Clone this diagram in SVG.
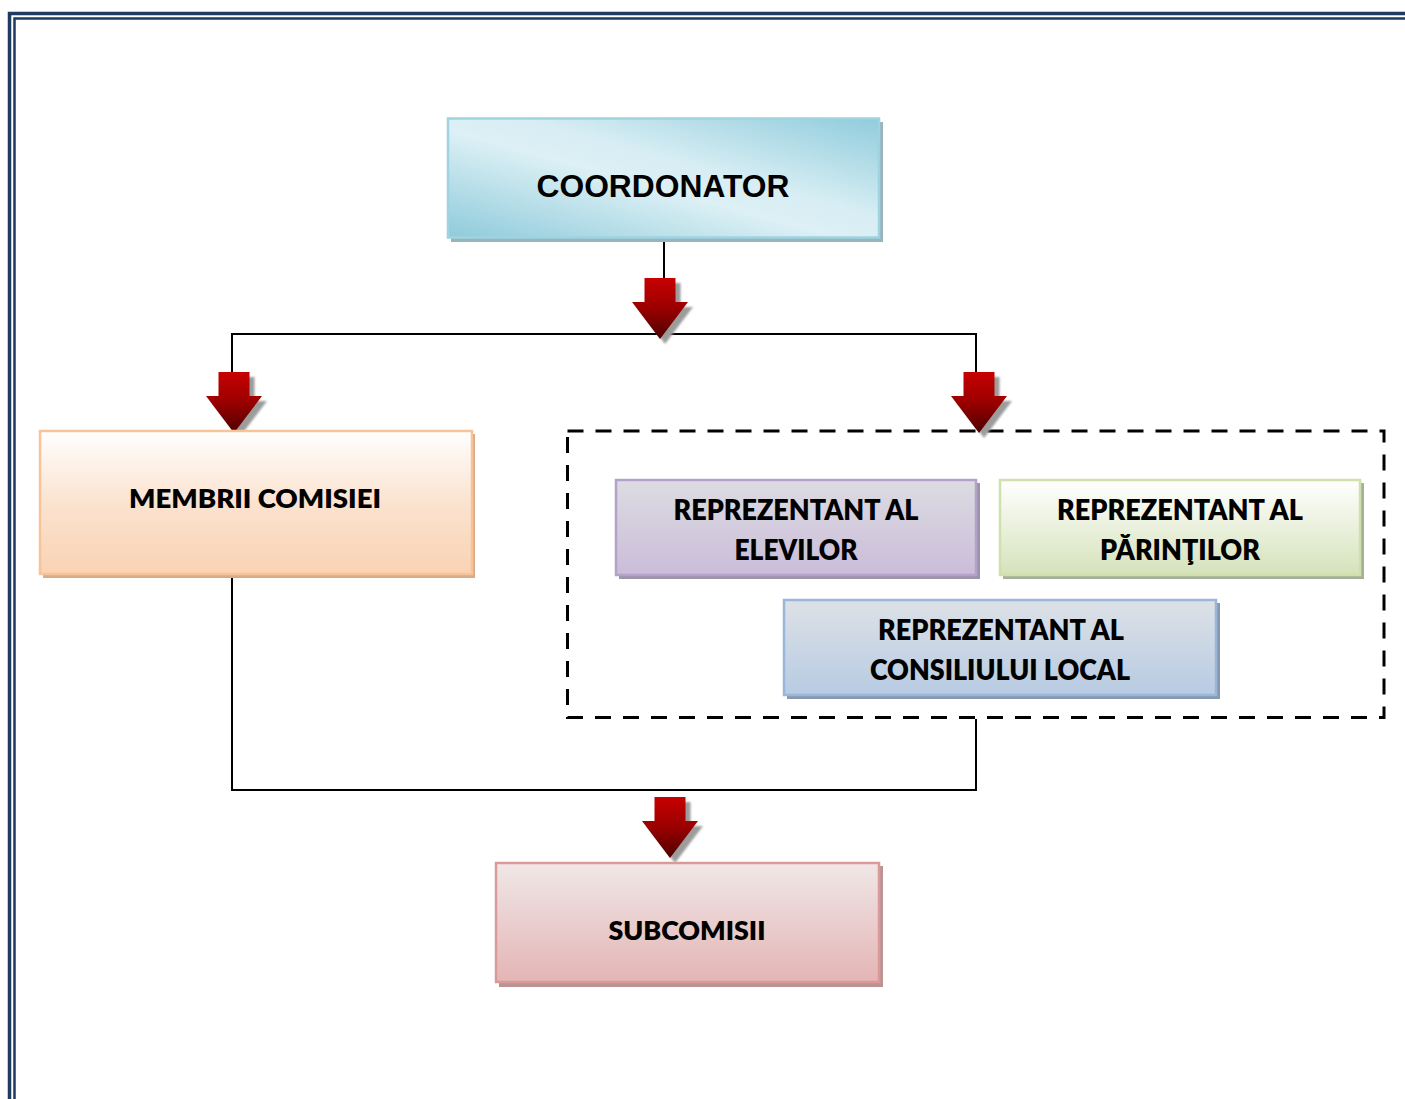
<svg xmlns="http://www.w3.org/2000/svg" width="1405" height="1099" viewBox="0 0 1405 1099">
<style>
.frame{fill:none;stroke:#1f3a60}
.conn{fill:none;stroke:#000;stroke-width:2}
.dash{fill:none;stroke:#000;stroke-width:3;stroke-dasharray:16 12}
.lbl{font-family:Lato,"Open Sans","DejaVu Sans",sans-serif;font-weight:800;fill:#000;text-anchor:middle}
.lblA{font-family:"Liberation Sans",Arial,sans-serif;font-weight:bold;fill:#000;text-anchor:middle}
.bx{stroke-width:2.5}
</style>
<defs>
<linearGradient id="gCoord" x1="0" y1="1" x2="1" y2="0">
<stop offset="0" stop-color="#8fcbdb"/>
<stop offset="0.45" stop-color="#dcf0f5"/>
<stop offset="0.58" stop-color="#d8eef4"/>
<stop offset="1" stop-color="#90ccdc"/>
</linearGradient>
<linearGradient id="gMem" x1="0" y1="0" x2="0" y2="1">
<stop offset="0" stop-color="#ffffff"/>
<stop offset="0.5" stop-color="#fbe3d0"/>
<stop offset="1" stop-color="#f9d3b3"/>
</linearGradient>
<linearGradient id="gElev" x1="0" y1="0" x2="0" y2="1">
<stop offset="0" stop-color="#dcdce2"/>
<stop offset="1" stop-color="#cbbcd9"/>
</linearGradient>
<linearGradient id="gPar" x1="0" y1="0" x2="0" y2="1">
<stop offset="0" stop-color="#ffffff"/>
<stop offset="1" stop-color="#d5e2ba"/>
</linearGradient>
<linearGradient id="gCons" x1="0" y1="0" x2="0" y2="1">
<stop offset="0" stop-color="#dde1e6"/>
<stop offset="1" stop-color="#b7cbe3"/>
</linearGradient>
<linearGradient id="gSub" x1="0" y1="0" x2="0" y2="1">
<stop offset="0" stop-color="#f0e7e7"/>
<stop offset="1" stop-color="#e4b5b5"/>
</linearGradient>
<linearGradient id="gArrow" x1="0" y1="0" x2="0" y2="1">
<stop offset="0" stop-color="#c80000"/>
<stop offset="0.5" stop-color="#9a0000"/>
<stop offset="1" stop-color="#4f0000"/>
</linearGradient>
<filter id="blur" x="-30%" y="-30%" width="160%" height="160%">
<feGaussianBlur stdDeviation="1.2"/>
</filter>
<path id="arrowShape" d="M-15.5,0 H15.5 V24 H28 L0,61 L-28,24 H-15.5 Z"/>
<g id="arrow">
<use href="#arrowShape" transform="translate(5,5)" fill="#9c9c9c" filter="url(#blur)"/>
<use href="#arrowShape" fill="url(#gArrow)"/>
</g>
</defs>
<rect width="1405" height="1099" fill="#ffffff"/>
<g id="frame">
<path class="frame" stroke-width="3.5" d="M9.5,1099 V13.5 H1405"/>
<path class="frame" stroke-width="2.5" d="M14.5,1099 V18.5 H1405"/>
</g>
<g id="group-representatives">
<rect class="dash" x="567.5" y="431" width="816.5" height="286.5"/>
</g>
<g id="connectors">
<path class="conn" d="M664,238 V300"/>
<path class="conn" d="M232,380 V334 H976 V380"/>
<path class="conn" d="M232,576 V790 H976 V719"/>
<use href="#arrow" transform="translate(660,278)"/>
<use href="#arrow" transform="translate(234,372)"/>
<use href="#arrow" transform="translate(979,372)"/>
<use href="#arrow" transform="translate(670,797)"/>
</g>
<g id="node-coordonator">
<rect x="451" y="122" width="432" height="120" fill="#97b5bf"/>
<rect class="bx" x="448" y="118.5" width="431" height="119" fill="url(#gCoord)" stroke="#9fd3e0"/>
<text class="lblA" x="663" y="197" font-size="31" textLength="253" lengthAdjust="spacingAndGlyphs">COORDONATOR</text>
</g>
<g id="node-membrii">
<rect x="43" y="434" width="432" height="144" fill="#d8ab86"/>
<rect class="bx" x="40" y="431" width="432" height="143" fill="url(#gMem)" stroke="#f9c39a"/>
<text class="lbl" x="255" y="508" font-size="26" textLength="252" lengthAdjust="spacingAndGlyphs">MEMBRII COMISIEI</text>
</g>
<g id="node-elevilor">
<rect x="619" y="483" width="361" height="96" fill="#9c95aa"/>
<rect class="bx" x="616" y="480" width="360" height="95" fill="url(#gElev)" stroke="#b4a2c9"/>
<text class="lbl" x="796" y="520" font-size="28" textLength="245" lengthAdjust="spacingAndGlyphs">REPREZENTANT AL</text>
<text class="lbl" x="796" y="560" font-size="28" textLength="123" lengthAdjust="spacingAndGlyphs">ELEVILOR</text>
</g>
<g id="node-parintilor">
<rect x="1003" y="483" width="361" height="96" fill="#a7af99"/>
<rect class="bx" x="1000" y="480" width="360" height="95" fill="url(#gPar)" stroke="#cfe0ad"/>
<text class="lbl" x="1180" y="520" font-size="28" textLength="246" lengthAdjust="spacingAndGlyphs">REPREZENTANT AL</text>
<text class="lbl" x="1180" y="560" font-size="28" textLength="160" lengthAdjust="spacingAndGlyphs">PĂRINŢILOR</text>
</g>
<g id="node-consiliu">
<rect x="787" y="603" width="433" height="96" fill="#8899ae"/>
<rect class="bx" x="784" y="600" width="432" height="95" fill="url(#gCons)" stroke="#9ab6d9"/>
<text class="lbl" x="1001" y="640" font-size="28" textLength="246" lengthAdjust="spacingAndGlyphs">REPREZENTANT AL</text>
<text class="lbl" x="1000" y="680" font-size="28" textLength="260" lengthAdjust="spacingAndGlyphs">CONSILIULUI LOCAL</text>
</g>
<g id="node-subcomisii">
<rect x="499" y="866" width="384" height="121" fill="#bc9393"/>
<rect class="bx" x="496" y="863" width="383" height="119" fill="url(#gSub)" stroke="#da9a99"/>
<text class="lbl" x="687" y="940" font-size="26" textLength="157" lengthAdjust="spacingAndGlyphs">SUBCOMISII</text>
</g>
</svg>
